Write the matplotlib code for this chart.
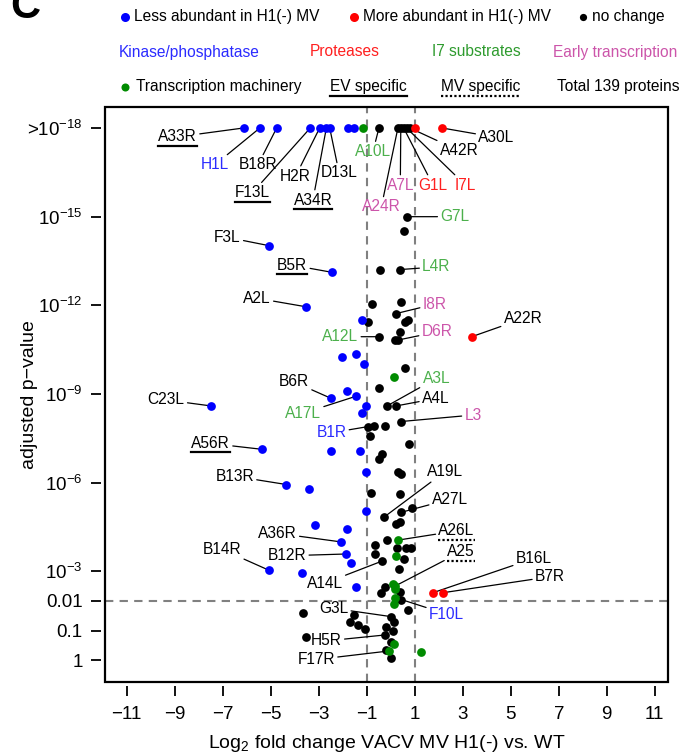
import numpy as np
import matplotlib
matplotlib.use('Agg')
import matplotlib.pyplot as plt
from matplotlib.lines import Line2D
from matplotlib.patches import Rectangle
from matplotlib.text import Text

plt.rcParams['font.family'] = ['Liberation Sans', 'DejaVu Sans']
plt.rcParams['mathtext.fontset'] = 'custom'
plt.rcParams['mathtext.rm'] = 'Liberation Sans'
plt.rcParams['mathtext.it'] = 'Liberation Sans:italic'
plt.rcParams['mathtext.default'] = 'regular'

# log2 fold change and -log10(adjusted p) for each group (18 = capped at >1e-18)
less_x = [-6.13, -5.45, -4.75, -3.35, -2.96, -2.68, -2.54, -1.78, -1.54, -5.07,
          -2.46, -3.51, -1.21, -2.01, -1.43, -1.11, -1.83, -2.47, -1.43, -1.01,
          -1.2, -7.5, -5.35, -2.47, -1.29, -4.35, -3.42, -1.01, -1.01, -3.14,
          -1.8, -2.08, -1.85, -1.67, -5.07, -3.68, -1.43]
less_y = [18, 18, 18, 18, 18, 18, 18, 18, 18, 14.02,
          13.12, 11.95, 11.52, 10.26, 10.34, 10.0, 9.11, 8.85, 8.93, 8.59,
          8.37, 8.6, 7.13, 7.07, 7.07, 5.94, 5.79, 6.37, 5.05, 4.57,
          4.42, 4.0, 3.59, 3.29, 3.04, 2.95, 2.46]

more_x = [1.01, 2.14, 3.375, 1.76, 2.18]
more_y = [18, 18, 10.94, 2.28, 2.28]

nochange_x = [-0.49, 0.3, 0.42, 0.54, 0.66, 0.8, 0.68, 0.54, -0.46, 0.375,
              -0.78, 0.42, 0.21, -0.95, 0.6, 0.7, 0.375, -0.49, 0.17, 0.32,
              0.58, -0.5, -0.15, 0.24, 0.42, -0.94, -0.69, -0.25, -0.875, 0.76,
              -0.35, -0.49, 0.31, 0.44, -0.83, 0.375, 0.9, 0.44, -0.29, 0.21,
              0.375, -0.15, -0.67, 0.28, 0.65, 0.86, -0.64, 0.54, -0.36, 0.33,
              -0.22, -0.39, 0.4, 0.44, 0.72, -3.65, 0.03, -1.53, -1.68, -1.36,
              -1.08, 0.14, -0.18, 0.1, -0.25, -3.54, 0.03, -0.18, 0.03]
nochange_y = [18, 18, 18, 18, 18, 18, 15.0, 14.52, 13.21, 13.21,
              12.04, 12.12, 11.72, 11.45, 11.45, 11.52, 11.1, 10.94, 10.83, 10.83,
              9.89, 9.21, 8.6, 8.6, 8.07, 7.9, 7.93, 7.93, 7.58, 7.31,
              6.97, 6.79, 6.37, 6.28, 5.67, 5.62, 5.16, 5.0, 4.83, 4.6,
              4.68, 4.06, 3.91, 3.78, 3.78, 3.78, 3.59, 3.41, 3.35, 3.07,
              2.48, 2.28, 2.31, 2.05, 1.69, 1.58, 1.47, 1.52, 1.3, 1.18,
              1.04, 1.3, 1.13, 0.99, 0.85, 0.79, 0.62, 0.34, 0.08]

txm_x = [0.31, -1.15, 0.125, 0.2, 0.17, 0.1, 0.17, 0.17, 0.14, 0.125, -0.07, 1.25]
txm_y = [4.06, 18, 9.57, 3.53, 2.5, 2.57, 2.39, 2.09, 1.89, 0.53, 0.31, 0.28]

x_ticks = [-11, -9, -7, -5, -3, -1, 1, 3, 5, 7, 9, 11]
y_ticks = [18, 15, 12, 9, 6, 3, 2, 1, 0]
y_ticklabels = ['>$10^{-18}$', '$10^{-15}$', '$10^{-12}$', '$10^{-9}$', '$10^{-6}$',
                '$10^{-3}$', '0.01', '0.1', '1']

BLUE = '#0000ff'
RED = '#ff0000'
GREEN = '#008b00'
C_KIN = '#2b2bff'
C_PROT = '#ff2020'
C_I7 = '#4cb04c'
C_EARLY = '#cc55aa'

groups = {'less': (less_x, less_y), 'more': (more_x, more_y),
          'none': (nochange_x, nochange_y), 'txm': (txm_x, txm_y)}

# label text, colour, group, point index, text position, underline ('-' solid, ':' dotted)
labels = [
    ('A33R', 'black', 'less', 0, (-8.875, 17.7), '-'),
    ('H1L', C_KIN, 'less', 1, (-7.33, 16.75), None),
    ('B18R', 'black', 'less', 2, (-5.53, 16.75), None),
    ('F13L', 'black', 'less', 3, (-5.76, 15.81), '-'),
    ('H2R', 'black', 'less', 4, (-3.96, 16.37), None),
    ('A34R', 'black', 'less', 5, (-3.24, 15.56), '-'),
    ('D13L', 'black', 'less', 6, (-2.15, 16.48), None),
    ('A10L', C_I7, 'none', 0, (-0.74, 17.2), None),
    ('A24R', C_EARLY, 'none', 1, (-0.39, 15.33), None),
    ('A7L', C_EARLY, 'none', 2, (0.40, 16.07), None),
    ('G1L', C_PROT, 'none', 3, (1.76, 16.07), None),
    ('I7L', C_PROT, 'none', 4, (3.11, 16.07), None),
    ('A42R', 'black', 'none', 5, (2.85, 17.23), None),
    ('A30L', 'black', 'more', 1, (4.40, 17.68), None),
    ('G7L', C_I7, 'none', 6, (2.67, 15.0), None),
    ('F3L', 'black', 'less', 9, (-6.8, 14.3), None),
    ('B5R', 'black', 'less', 10, (-4.1, 13.36), '-'),
    ('A2L', 'black', 'less', 11, (-5.57, 12.24), None),
    ('L4R', C_I7, 'none', 9, (1.9, 13.3), None),
    ('I8R', C_EARLY, 'none', 12, (1.83, 12.04), None),
    ('D6R', C_EARLY, 'none', 19, (1.93, 11.1), None),
    ('A12L', C_I7, 'none', 17, (-2.1, 10.94), None),
    ('A22R', 'black', 'more', 2, (5.51, 11.55), None),
    ('A3L', C_I7, 'none', 22, (1.9, 9.53), None),
    ('A4L', 'black', 'none', 23, (1.875, 8.85), None),
    ('L3', C_EARLY, 'none', 24, (3.43, 8.29), None),
    ('B6R', 'black', 'less', 17, (-4.03, 9.41), None),
    ('A17L', C_I7, 'less', 18, (-3.65, 8.35), None),
    ('C23L', 'black', 'less', 21, (-9.35, 8.8), None),
    ('B1R', C_KIN, 'none', 25, (-2.47, 7.69), None),
    ('A56R', 'black', 'less', 22, (-7.5, 7.33), '-'),
    ('B13R', 'black', 'less', 25, (-6.5, 6.22), None),
    ('A19L', 'black', 'none', 38, (2.25, 6.37), None),
    ('A27L', 'black', 'none', 37, (2.46, 5.44), None),
    ('A26L', 'black', 'txm', 0, (2.74, 4.37), ':'),
    ('A25', 'black', 'txm', 4, (2.92, 3.66), ':'),
    ('A36R', 'black', 'less', 31, (-4.72, 4.29), None),
    ('B14R', 'black', 'less', 34, (-7.03, 3.75), None),
    ('B12R', 'black', 'less', 32, (-4.32, 3.53), None),
    ('A14L', 'black', 'none', 48, (-2.75, 2.6), None),
    ('B16L', 'black', 'more', 3, (5.96, 3.44), None),
    ('B7R', 'black', 'more', 4, (6.63, 2.82), None),
    ('F10L', C_KIN, 'none', 53, (2.32, 1.56), None),
    ('G3L', 'black', 'none', 56, (-2.375, 1.75), None),
    ('H5R', 'black', 'none', 64, (-2.68, 0.65), None),
    ('F17R', 'black', 'txm', 10, (-3.1, 0.02), None),
]

W, H = 688, 754
fig = plt.figure(figsize=(W / 100, H / 100), dpi=100)
ax = fig.add_axes([105 / W, 1 - 682 / H, (668 - 105) / W, (682 - 107) / H])
ax.set_xlim(-11.9, 11.55)
ax.set_ylim(-0.74, 18.71)

ax.axvline(-1, color='#808080', lw=1.5, ls=(0, (4, 3)), zorder=1)
ax.axvline(1, color='#808080', lw=1.5, ls=(0, (4, 3)), zorder=1)
ax.axhline(2, color='#808080', lw=1.5, ls=(0, (4, 3)), zorder=1)

ms = 6.3
ax.plot(nochange_x, nochange_y, 'o', color='black', ms=ms, mew=0, zorder=5)
ax.plot(less_x, less_y, 'o', color=BLUE, ms=ms, mew=0, zorder=5)
ax.plot(more_x, more_y, 'o', color=RED, ms=ms, mew=0, zorder=5)
ax.plot(txm_x, txm_y, 'o', color=GREEN, ms=ms, mew=0, zorder=5)

ann = []
for txt, col, g, i, pos, ul in labels:
    gx, gy = groups[g]
    a = ax.annotate(txt, xy=(gx[i], gy[i]), xytext=pos, ha='center', va='center',
                    color=col, fontsize=11.2, zorder=3,
                    arrowprops=dict(arrowstyle='-', color='black', lw=0.9,
                                    shrinkA=0, shrinkB=0))
    ann.append((a, ul))

# R-style axes: full box plus ticks offset from it
for s in ax.spines.values():
    s.set_visible(False)
ax.spines['left'].set_position(('outward', 3))
ax.spines['bottom'].set_position(('outward', 3))
ax.add_patch(Rectangle((0, 0), 1, 1, transform=ax.transAxes, fill=False,
                       lw=1.6, ec='black', zorder=6, clip_on=False))
ax.set_xticks(x_ticks)
ax.set_xticklabels([str(v).replace('-', '\u2212') for v in x_ticks])
ax.set_yticks(y_ticks)
ax.set_yticklabels(y_ticklabels)
ax.tick_params(axis='both', direction='out', length=7, width=1.3, labelsize=13.5)
ax.tick_params(axis='x', pad=7)
ax.tick_params(axis='y', pad=6)

fig.text(30 / W, 1 - 394.5 / H, 'adjusted p\u2212value', rotation=90,
         ha='center', va='center', fontsize=14)
fig.text(386.5 / W, 1 - 743 / H, 'Log$_2$ fold change VACV MV H1(-) vs. WT',
         ha='center', va='center', fontsize=14)

fig.text(25 / W, 1 - 7 / H, 'C', fontsize=30, fontweight='bold', ha='center', va='center')

# legend rows
def fx(px):
    return px / W

def fy(py):
    return 1 - py / H

for px, py, col, m in [(125, 17, BLUE, 6.5), (354, 17, RED, 6.5), (583, 17, 'black', 5.2),
                       (125, 87, GREEN, 5.8)]:
    fig.add_artist(Line2D([fx(px)], [fy(py)], marker='o', color=col, ms=m, mew=0,
                          transform=fig.transFigure))

leg_fs = 11.2
fig.text(fx(134), fy(17), 'Less abundant in H1(-) MV', va='center', fontsize=leg_fs)
fig.text(fx(363), fy(17), 'More abundant in H1(-) MV', va='center', fontsize=leg_fs)
fig.text(fx(592), fy(17), 'no change', va='center', fontsize=leg_fs)
fig.text(fx(119), fy(52), 'Kinase/phosphatase', va='center', fontsize=leg_fs, color=C_KIN)
fig.text(fx(310), fy(52), 'Proteases', va='center', fontsize=leg_fs, color=C_PROT)
fig.text(fx(432), fy(52), 'I7 substrates', va='center', fontsize=leg_fs, color='#2e9b2e')
fig.text(fx(553), fy(52), 'Early transcription', va='center', fontsize=leg_fs, color=C_EARLY)
fig.text(fx(136), fy(87), 'Transcription machinery', va='center', fontsize=leg_fs)
ev = fig.text(fx(330), fy(87), 'EV specific', va='center', fontsize=leg_fs)
mv = fig.text(fx(441), fy(87), 'MV specific', va='center', fontsize=leg_fs)
fig.text(fx(557), fy(87), 'Total 139 proteins', va='center', fontsize=leg_fs)

fig.canvas.draw()
r = fig.canvas.get_renderer()

def underline(t, style):
    # text box only (an Annotation's own extent also covers its connector)
    bb = Text.get_window_extent(t, r)
    y = bb.y0 - 1.5
    ls = '-' if style == '-' else (0, (1, 1))
    fig.add_artist(Line2D([bb.x0 / W, bb.x1 / W], [y / H, y / H], color='black',
                          lw=1.6, ls=ls, transform=fig.transFigure))

underline(ev, '-')
underline(mv, ':')
for a, ul in ann:
    if ul:
        underline(a, ul)

fig.savefig('out.png', dpi=100)
